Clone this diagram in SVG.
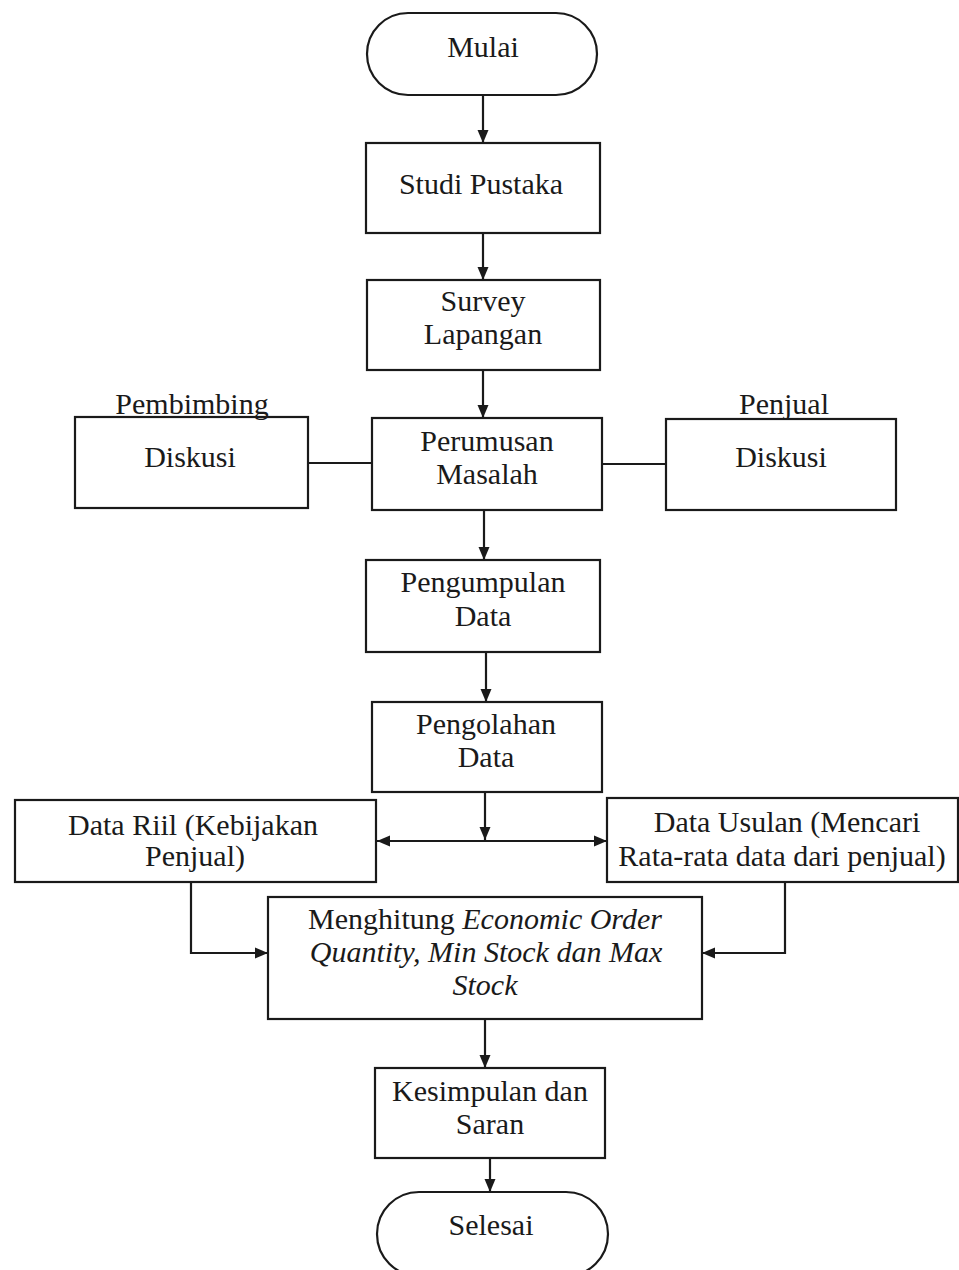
<svg xmlns="http://www.w3.org/2000/svg" width="959" height="1270" viewBox="0 0 959 1270">
<style>
.n{fill:#fff;stroke:#1a1a1a;stroke-width:2.2}
.t{font-family:"Liberation Serif","Times New Roman",serif;font-size:30px;fill:#1a1a1a;text-anchor:middle}
.i{font-style:italic}
.c{fill:none;stroke:#1a1a1a;stroke-width:2.2}
</style>
<defs>
<marker id="ah" markerUnits="userSpaceOnUse" markerWidth="14" markerHeight="14" viewBox="0 0 14 14" refX="13" refY="7" orient="auto">
<path d="M0,1.5 L13,7 L0,12.5 Z" fill="#1a1a1a"/>
</marker>
</defs>
<rect width="959" height="1270" fill="#fff"/>
<g id="connectors">
<line class="c" x1="483" y1="95" x2="483" y2="143" marker-end="url(#ah)"/>
<line class="c" x1="483" y1="233" x2="483" y2="280" marker-end="url(#ah)"/>
<line class="c" x1="483" y1="370" x2="483" y2="418" marker-end="url(#ah)"/>
<line class="c" x1="308" y1="463" x2="372" y2="463"/>
<line class="c" x1="602" y1="464" x2="666" y2="464"/>
<line class="c" x1="484" y1="510" x2="484" y2="560" marker-end="url(#ah)"/>
<line class="c" x1="486" y1="652" x2="486" y2="702" marker-end="url(#ah)"/>
<line class="c" x1="485" y1="792" x2="485" y2="840" marker-end="url(#ah)"/>
<line class="c" x1="485" y1="841" x2="377" y2="841" marker-end="url(#ah)"/>
<line class="c" x1="485" y1="841" x2="607" y2="841" marker-end="url(#ah)"/>
<polyline class="c" points="191,882 191,953 268,953" marker-end="url(#ah)"/>
<polyline class="c" points="785,882 785,953 702,953" marker-end="url(#ah)"/>
<line class="c" x1="485" y1="1019" x2="485" y2="1068" marker-end="url(#ah)"/>
<line class="c" x1="490" y1="1158" x2="490" y2="1192" marker-end="url(#ah)"/>
</g>
<g id="mulai">
<rect class="n" x="367" y="13" width="230" height="82" rx="41" ry="41"/>
<text class="t" x="483" y="57">Mulai</text>
</g>
<g id="studi-pustaka">
<rect class="n" x="366" y="143" width="234" height="90"/>
<text class="t" x="481" y="194">Studi Pustaka</text>
</g>
<g id="survey-lapangan">
<rect class="n" x="367" y="280" width="233" height="90"/>
<text class="t" x="483" y="311">Survey</text>
<text class="t" x="483" y="344">Lapangan</text>
</g>
<g id="diskusi-pembimbing">
<rect class="n" x="75" y="417" width="233" height="91"/>
<text class="t" x="192" y="414">Pembimbing</text>
<text class="t" x="190" y="467">Diskusi</text>
</g>
<g id="perumusan-masalah">
<rect class="n" x="372" y="418" width="230" height="92"/>
<text class="t" x="487" y="451">Perumusan</text>
<text class="t" x="487" y="484">Masalah</text>
</g>
<g id="diskusi-penjual">
<rect class="n" x="666" y="419" width="230" height="91"/>
<text class="t" x="784" y="414">Penjual</text>
<text class="t" x="781" y="467">Diskusi</text>
</g>
<g id="pengumpulan-data">
<rect class="n" x="366" y="560" width="234" height="92"/>
<text class="t" x="483" y="592">Pengumpulan</text>
<text class="t" x="483" y="626">Data</text>
</g>
<g id="pengolahan-data">
<rect class="n" x="372" y="702" width="230" height="90"/>
<text class="t" x="486" y="734">Pengolahan</text>
<text class="t" x="486" y="767">Data</text>
</g>
<g id="data-riil">
<rect class="n" x="15" y="800" width="361" height="82"/>
<text class="t" x="193" y="835">Data Riil (Kebijakan</text>
<text class="t" x="195" y="866">Penjual)</text>
</g>
<g id="data-usulan">
<rect class="n" x="607" y="798" width="351" height="84"/>
<text class="t" x="787" y="832">Data Usulan (Mencari</text>
<text class="t" x="782" y="866">Rata-rata data dari penjual)</text>
</g>
<g id="menghitung">
<rect class="n" x="268" y="897" width="434" height="122"/>
<text class="t" x="485" y="929">Menghitung <tspan class="i">Economic Order</tspan></text>
<text class="t i" x="486" y="962">Quantity, Min Stock dan Max</text>
<text class="t i" x="485" y="995">Stock</text>
</g>
<g id="kesimpulan">
<rect class="n" x="375" y="1068" width="230" height="90"/>
<text class="t" x="490" y="1101">Kesimpulan dan</text>
<text class="t" x="490" y="1134">Saran</text>
</g>
<g id="selesai">
<rect class="n" x="377" y="1192" width="231" height="84" rx="42" ry="42"/>
<text class="t" x="491" y="1235">Selesai</text>
</g>
</svg>
